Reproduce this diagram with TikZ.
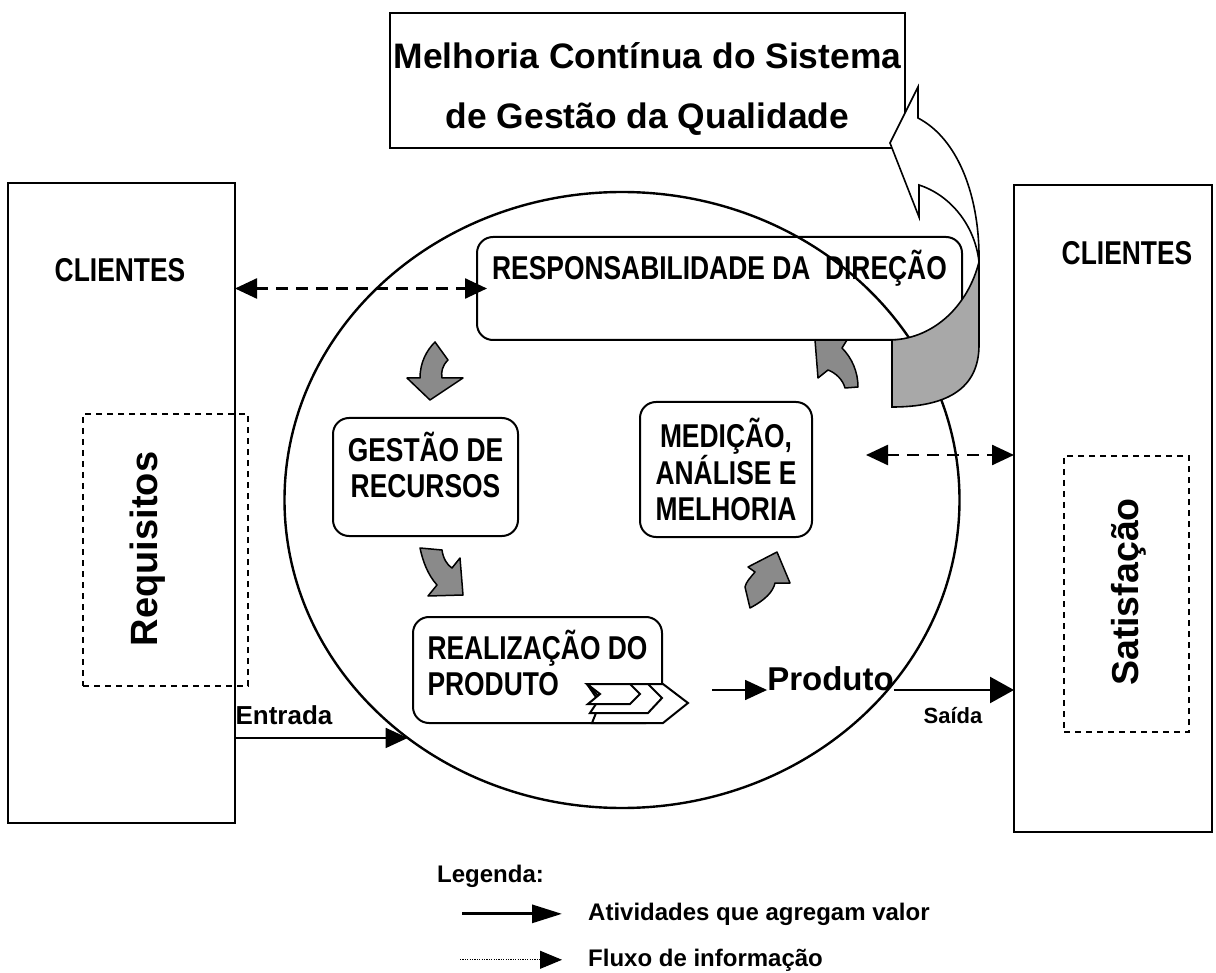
\documentclass[tikz,border=0pt]{standalone}
\usepackage{fontspec}
\setmainfont{Liberation Sans}
\newfontfamily\condfont[FakeStretch=0.8]{Liberation Sans}
\usetikzlibrary{shapes}
\usetikzlibrary{positioning}
\usetikzlibrary{arrows.meta}
\definecolor{arrgray}{RGB}{138,138,138}
\definecolor{bandgray}{RGB}{168,168,168}
\tikzset{
    clibox/.style = {rectangle, draw=black, line width=1.4pt, inner sep=0pt, outer sep=0pt},
    dashbox/.style = {rectangle, draw=black, line width=1.3pt, dash pattern=on 6pt off 5pt, inner sep=0pt, outer sep=0pt},
    procbox/.style = {rectangle, rounded corners=16pt, draw=black, line width=2pt, inner sep=0pt, outer sep=0pt},
    proctxt/.style = {align=center, inner sep=0pt, font=\condfont\bfseries\fontsize{33}{36}\selectfont},
    titletxt/.style = {align=center, inner sep=0pt, font=\bfseries\fontsize{35.4}{60}\selectfont},
    clitxt/.style = {anchor=base, inner sep=0pt, font=\condfont\bfseries\fontsize{33}{36}\selectfont},
    sidetxt/.style = {rotate=90, inner sep=0pt, font=\bfseries\fontsize{38}{40}\selectfont},
    flowtxt/.style = {anchor=base, inner sep=0pt, font=\bfseries\fontsize{26}{30}\selectfont},
    legtxt/.style = {anchor=base west, inner sep=0pt, font=\bfseries\fontsize{24}{28}\selectfont},
    edgeinfo/.style = {{Triangle[length=22pt,width=20pt]}-{Triangle[length=22pt,width=20pt]}, line width=2.5pt, dash pattern=on 12pt off 8pt},
    edgeval/.style = {-{Triangle[length=22pt,width=20pt]}, line width=1.5pt},
    edgeout/.style = {-{Triangle[length=24pt,width=26pt]}, line width=2.5pt},
    legval/.style = {-{Triangle[length=30pt,width=18pt]}, line width=3pt},
    leginfo/.style = {-{Triangle[length=22pt,width=18pt]}, line width=1pt, dash pattern=on 1.2pt off 1.2pt},
    grayarr/.style = {draw=black, fill=arrgray, line width=1.5pt, line join=round},
    chev/.style = {draw=black, fill=white, line width=2pt, line join=miter},
}

\begin{document}
\begin{tikzpicture}[x=1pt, y=-1pt]
  \path[use as bounding box, fill=white] (0,0) rectangle (1216,973);

  % the cycle
  \node[ellipse, draw=black, line width=2.4pt, minimum width=675pt, minimum height=616pt, inner sep=0pt, outer sep=0pt] (ciclo) at (622,500) {};

  % customers
  \node[clibox, minimum width=227pt, minimum height=640pt] (cliL) at (121.5,503) {};
  \node[clibox, minimum width=198pt, minimum height=647pt] (cliR) at (1113,508.5) {};
  \node[clitxt] (cliLt) at (120,282) {CLIENTES};
  \node[clitxt] (cliRt) at (1127,265) {CLIENTES};
  \node[dashbox, minimum width=165pt, minimum height=272pt] (req) at (165.5,550) {};
  \node[dashbox, minimum width=125pt, minimum height=276pt] (sat) at (1126.5,594) {};
  \node[sidetxt] (reqt) at (148,549) {Requisitos};
  \node[sidetxt, font=\bfseries\fontsize{37.5}{40}\selectfont] (satt) at (1129,592) {Satisfação};

  % title
  \node[clibox, minimum width=515pt, minimum height=135pt, label={[titletxt, yshift=-9pt]center:Melhoria Contínua do Sistema\\de Gestão da Qualidade}] (melhoria) at (647.5,80.5) {};

  % gray turning arrows
  \path[grayarr] (435,342) -- (448,360) .. controls (442,366) and (441,372) .. (442,378) -- (463,378) -- (430,400) -- (407,378) -- (420,378) .. controls (420,362) and (427,350) .. (435,342) -- cycle;
  \path[grayarr] (420,548) -- (442,550) .. controls (443,558) and (447,565) .. (452,568) -- (460,558) -- (463,595) -- (428,596) -- (437,585) .. controls (428,575) and (423,562) .. (420,548) -- cycle;
  \path[grayarr] (745,587) -- (750,608) .. controls (765,600) and (773,592) .. (775,583) -- (790,583) -- (777,552) -- (748,567) -- (755,572) .. controls (750,578) and (746,582) .. (745,587) -- cycle;
  \path[grayarr] (815,340) -- (847,340) -- (842,348) .. controls (852,358) and (858,372) .. (858,387) -- (845,388) .. controls (843,380) and (836,373) .. (828,370) -- (818,378) -- cycle;

  % processes
  \node[procbox, minimum width=485pt, minimum height=103pt, text height=43pt, text depth=60pt, font=\condfont\bfseries\fontsize{33}{36}\selectfont] (resp) at (719.5,288.5) {RESPONSABILIDADE DA\ \ DIREÇÃO};
  \node[procbox, minimum width=185pt, minimum height=118pt, label={[proctxt, yshift=12pt]center:GESTÃO DE\\RECURSOS}] (gestao) at (425.5,477) {};
  \node[procbox, proctxt, minimum width=172pt, minimum height=135pt] (medicao) at (726,469.5) {MEDIÇÃO,\\ANÁLISE E\\MELHORIA};
  \node[procbox, minimum width=249pt, minimum height=106pt, label={[proctxt, align=left, yshift=7pt]center:REALIZAÇÃO DO\\PRODUTO}] (realiz) at (537.5,670) {};

  % chevrons
  \path[chev] (587,684) -- (663,684) -- (688,703) -- (663,723) -- (592,723) -- (600,703) -- cycle;
  \path[chev] (587,684) -- (648,684) -- (662,698) -- (648,713) -- (590,713) -- (600,698) -- cycle;
  \path[chev] (587,684) -- (630,684) -- (640,694) -- (630,704) -- (588,704) -- (600,694) -- cycle;

  % improvement loop
  \path[draw=black, fill=white, line width=1.6pt, line join=miter] (979,262) .. controls (980,200) and (960,140) .. (918,118) -- (918,87) -- (890,143) -- (919,217) -- (919,185) .. controls (950,195) and (975,225) .. (979,262) -- cycle;
  \path[draw=black, fill=bandgray, line width=1.6pt] (979,262) .. controls (968,305) and (935,338) .. (892,340) -- (892,407) .. controls (945,407) and (979,390) .. (979,345) -- cycle;

  % flows
  \draw[edgeinfo] (cliL.east |- resp.west) -- ([xshift=10pt]resp.west);
  \coordinate (medR) at (866,455);
  \draw[edgeinfo] (medR) -- (medR -| cliR.west);
  \node[flowtxt] (entrada) at (284,724) {Entrada};
  \draw[edgeval] (cliL.east |- ciclo.228) -- (ciclo.228);
  \node[flowtxt, font=\bfseries\fontsize{33}{36}\selectfont] (produto) at (830.5,690) {Produto};
  \coordinate (prodL) at (712,690);
  \draw[edgeval] (prodL) -- (produto.base west);
  \draw[edgeout] (produto.base east) -- (produto.base east -| cliR.west);
  \node[flowtxt, font=\bfseries\fontsize{22}{26}\selectfont] (saida) at (953,723) {Saída};

  % legend
  \node[legtxt] (legenda) at (437,882) {Legenda:};
  \node[legtxt] (ativ) at (588,920) {Atividades que agregam valor};
  \node[legtxt] (fluxo) at (588,966) {Fluxo de informação};
  \draw[legval] ([xshift=-126pt]ativ.west) -- ([xshift=-26pt]ativ.west);
  \draw[leginfo] ([xshift=-128pt]fluxo.west) -- ([xshift=-26pt]fluxo.west);

\end{tikzpicture}
\end{document}
